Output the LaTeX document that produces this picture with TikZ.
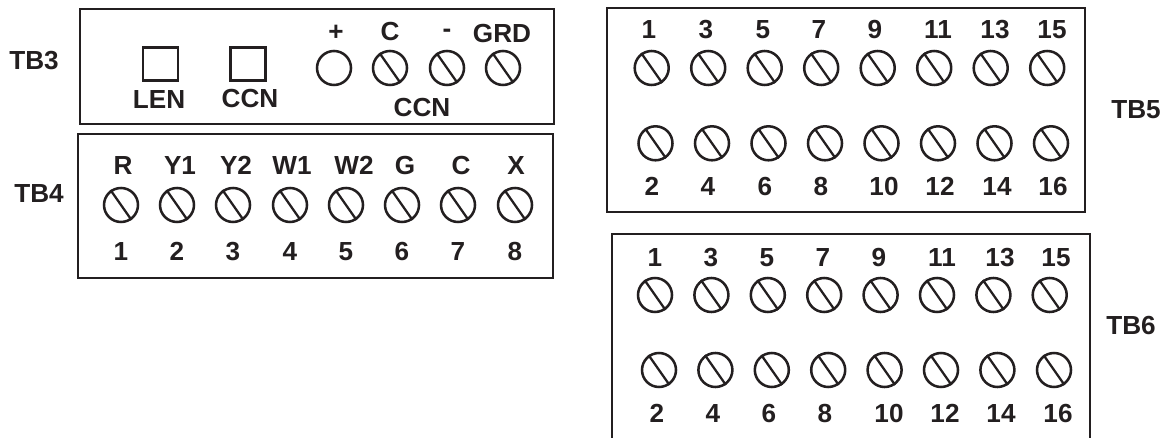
\documentclass[tikz,border=0pt]{standalone}
\usepackage{fontspec}
\setmainfont{Liberation Sans}
\definecolor{ink}{HTML}{231F20}
\tikzset{
  px/.style={x=0.75pt,y=-0.75pt},
  panel/.style={draw=ink,line width=1.7pt},
  lbl/.style={inner sep=0pt,text=ink,text height=13.8pt,text depth=0pt,font=\bfseries\fontsize{19.6pt}{22pt}\selectfont},
  term/.style={circle,draw=ink,line width=1.9pt,minimum size=25.5pt,inner sep=0pt},
  jumper/.style={rectangle,draw=ink,line width=1.9pt,minimum width=26.5pt,minimum height=25pt,inner sep=0pt},
  slot/.style={draw=ink,line width=1.7pt}
}
\newcommand{\screw}[3]{\node[term] (#1) at (#2,#3) {}; \draw[slot] (#1.125) -- (#1.-55);}
\begin{document}
\begin{tikzpicture}[px]
\useasboundingbox (0,0) rectangle (1168,438);
% panels
\draw[panel] (80,9) rectangle (554,124);
\draw[panel] (78,134) rectangle (553,278);
\draw[panel] (607,8) rectangle (1085,212);
\draw[panel] (612,438) -- (612,234) -- (1090,234) -- (1090,438);
% side labels
\node[lbl] (tb3) at (34,60) {TB3};
\node[lbl] (tb4) at (39,193) {TB4};
\node[lbl] (tb5) at (1136,109) {TB5};
\node[lbl] (tb6) at (1131,325) {TB6};
% TB3
\node[jumper] (len) at (160.5,64) {};
\node[jumper] (ccnj) at (248,64) {};
\node[lbl] (lenl) at (159,99) {LEN};
\node[lbl] (ccnl) at (250,98) {CCN};
\node[term] (plus) at (334,68) {};
\screw{cterm}{390}{68}
\screw{minus}{447}{68}
\screw{grd}{503}{68}
\node[lbl] (plusl) at (336,31) {+};
\node[lbl] (cl) at (390,31) {C};
\node[lbl] (minusl) at (447,28.5) {-};
\node[lbl] (grdl) at (502,33) {GRD};
\node[lbl] (ccnb) at (422,107) {CCN};
% TB4
\foreach \i/\x/\t/\tx in {1/121/R/123,2/177/Y1/180,3/233/Y2/236,4/290/W1/292,5/346/W2/354,6/402/G/405,7/458/C/461,8/515/X/516}{
  \screw{f\i}{\x}{205}
  \node[lbl] (ft\i) at (\tx,165) {\t};
  \node[lbl] (fn\i) at (\x,251) {\i};
}
% TB5
\foreach \i/\x/\lx in {1/651.7/649,3/708.2/706,5/764.7/763,7/821.2/819,9/877.7/875,11/934.2/938,13/990.7/995,15/1047.2/1052}{
  \screw{a\i}{\x}{68}
  \node[lbl] (al\i) at (\lx,29) {\i};
}
\foreach \i/\x/\lx in {2/655.5/652,4/712/708,6/768.5/765,8/825/821,10/881.5/884,12/938/940,14/994.5/997,16/1051/1053}{
  \screw{a\i}{\x}{143.3}
  \node[lbl] (al\i) at (\lx,186) {\i};
}
% TB6
\foreach \i/\x/\lx in {1/655/655,3/711.4/711,5/767.8/767,7/824.2/823,9/880.6/879,11/937/942,13/993.4/1000,15/1049.7/1056}{
  \screw{b\i}{\x}{295}
  \node[lbl] (bl\i) at (\lx,257) {\i};
}
\foreach \i/\x/\lx in {2/659/657,4/715.4/713,6/771.8/769,8/828.2/825,10/884.6/889,12/941/945,14/997.4/1001,16/1054/1058}{
  \screw{b\i}{\x}{370}
  \node[lbl] (bl\i) at (\lx,413) {\i};
}
\end{tikzpicture}
\end{document}
